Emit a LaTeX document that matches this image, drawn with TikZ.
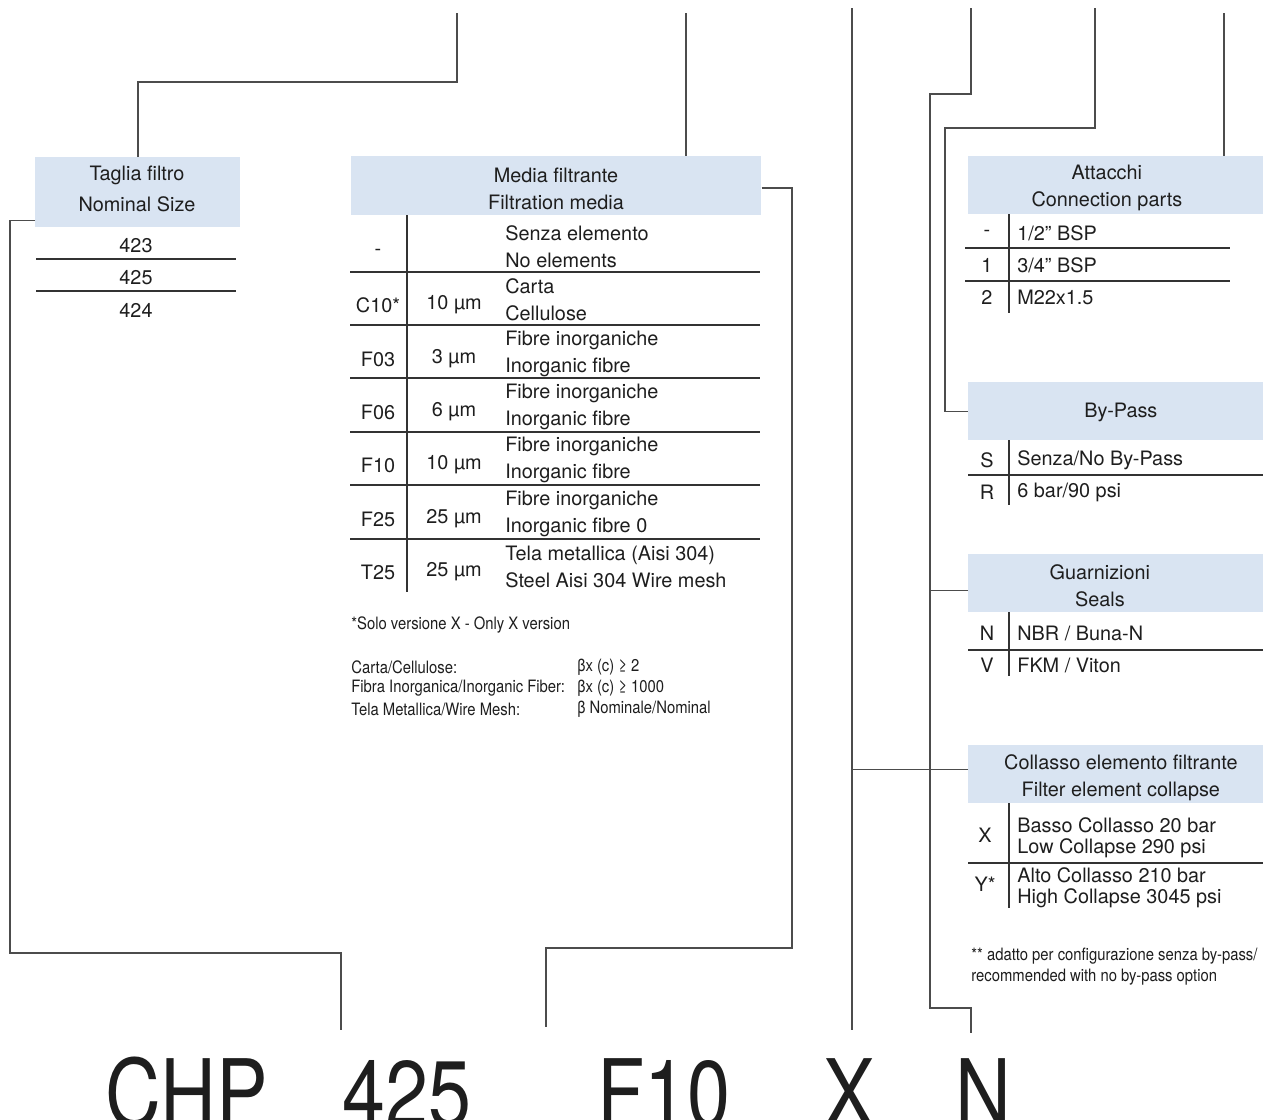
\documentclass[tikz,border=0pt]{standalone}
\usepackage{fontspec}
\setmainfont{TeX Gyre Heros}
\usetikzlibrary{positioning}

\definecolor{hdrblue}{RGB}{217,228,242}
\definecolor{ink}{RGB}{30,30,30}
\newcommand{\pxu}{0.02cm}
\newcommand{\narrow}[1]{\scalebox{0.87}[1]{#1}}

\tikzset{
  conn/.style={draw=black!70, line width=0.75pt},
  rule/.style={draw=black!80, line width=0.75pt},
  hdr/.style={fill=hdrblue, inner sep=0pt, anchor=north west, minimum height=58*\pxu},
  hdrtext/.style={align=center, inner sep=0pt, text=ink, font=\fontsize{11.3}{15.3}\selectfont},
  cell/.style={inner sep=0pt, text=ink, font=\fontsize{11.3}{15.3}\selectfont},
  tight/.style={cell, anchor=west, align=left, font=\fontsize{11.3}{12}\selectfont},
  note/.style={inner sep=0pt, anchor=west, align=left, text=ink, font=\fontsize{9.7}{11.9}\selectfont},
  big/.style={inner sep=0pt, anchor=base, text=ink, font=\fontsize{53}{60}\selectfont},
}

\begin{document}
\begin{tikzpicture}[x=0.02cm,y=-0.02cm]
  \fill[white] (0,0) rectangle (1263,1119);
  \useasboundingbox (0,0) rectangle (1263,1119);

  % header boxes
  \node[hdr, minimum width=205*\pxu, minimum height=70*\pxu] (taglia) at (35,157) {};
  \node[hdr, minimum width=410*\pxu, minimum height=59*\pxu] (media) at (351,156) {};
  \node[hdr, minimum width=295*\pxu] (attacchi) at (968,156) {};
  \node[hdr, minimum width=295*\pxu] (bypass) at (968,382) {};
  \node[hdr, minimum width=295*\pxu] (guarn) at (968,554) {};
  \node[hdr, minimum width=295*\pxu] (collasso) at (968,745) {};

  \node[hdrtext, font=\fontsize{11.3}{18}\selectfont] at (137,189) {Taglia filtro\\Nominal Size};
  \node[hdrtext] at (556,188.5) {Media filtrante\\Filtration media};
  \node[hdrtext] at ([xshift=-9*\pxu, yshift=-3*\pxu]attacchi.center) {Attacchi\\Connection parts};
  \node[hdrtext] at ([xshift=5*\pxu, yshift=-1*\pxu]bypass.center) {By-Pass};
  \node[hdrtext] at ([xshift=-16*\pxu, yshift=-2*\pxu]guarn.center) {Guarnizioni\\Seals};
  \node[hdrtext] at ([xshift=5*\pxu, yshift=-3*\pxu]collasso.center) {Collasso elemento filtrante\\Filter element collapse};

  % nominal size
  \node[cell] (s423) at (136,246) {423};
  \node[cell] (s425) at (136,278) {425};
  \node[cell] (s424) at (136,310) {424};
  \foreach \y in {259,291}
    \draw[rule] (36,\y) -- (236,\y);

  % filtration media
  \foreach \code/\mic/\la/\lb/\y in {
    -//Senza elemento/No elements/247,
    C10*/10 µm/Carta/Cellulose/300,
    F03/3 µm/Fibre inorganiche/Inorganic fibre/354,
    F06/6 µm/Fibre inorganiche/Inorganic fibre/407,
    F10/10 µm/Fibre inorganiche/Inorganic fibre/460,
    F25/25 µm/Fibre inorganiche/{Inorganic fibre 0}/514,
    T25/25 µm/{Tela metallica (Aisi 304)}/{Steel Aisi 304 Wire mesh}/567}{
    \node[cell] (m\y) at (378,\y+5) {\code};
    \node[cell] at (454,\y+5) {\mic};
    \node[cell, anchor=west, align=left] at (505,\y) {\la\\\lb};
  }
  \foreach \y in {272,325,378,432,485,539}
    \draw[rule] (350,\y) -- (760,\y);
  \draw[rule] (407,215) -- (407,592);

  \node[note] (fnx) at (351,625) {\narrow{*Solo versione X - Only X version}};
  \node[note] at (351,667) {\narrow{Carta/Cellulose:}};
  \node[note] at (351,688) {\narrow{Fibra Inorganica/Inorganic Fiber:}};
  \node[note] at (351,709) {\narrow{Tela Metallica/Wire Mesh:}};
  \node[note] at (577,667) {\narrow{βx (c) ≥ 2}};
  \node[note] at (577,688) {\narrow{βx (c) ≥ 1000}};
  \node[note] at (577,709) {\narrow{β Nominale/Nominal}};

  % connection parts
  \foreach \code/\y in {-/233, 1/265, 2/297}
    \node[cell] at (987,\y) {\code};
  \node[cell, anchor=west] at (1017,233) {1/2” BSP};
  \node[cell, anchor=west] at (1017,265) {3/4” BSP};
  \node[cell, anchor=west] at (1017,297) {M22x1.5};
  \foreach \y in {248,281}
    \draw[rule] (965,\y) -- (1230,\y);
  \draw[rule] (1009,214) -- (1009,313);

  % by-pass
  \node[cell] at (987,460) {S};
  \node[cell] at (987,492) {R};
  \node[cell, anchor=west] at (1017,460) {Senza/No By-Pass};
  \node[cell, anchor=west] at (1017,492) {6 bar/90 psi};
  \draw[rule] (968,475) -- (1263,475);
  \draw[rule] (1009,440) -- (1009,505);

  % seals
  \node[cell] at (987,633) {N};
  \node[cell] at (987,665) {V};
  \node[cell, anchor=west] at (1017,633) {NBR / Buna-N};
  \node[cell, anchor=west] at (1017,665) {FKM / Viton};
  \draw[rule] (968,650) -- (1263,650);
  \draw[rule] (1009,612) -- (1009,676);

  % collapse
  \node[cell] at (985,835) {X};
  \node[cell] at (985,884) {Y*};
  \node[tight] at (1017,837.5) {Basso Collasso 20 bar\\Low Collapse 290 psi};
  \node[tight] at (1017,887.5) {Alto Collasso 210 bar\\High Collapse 3045 psi};
  \draw[rule] (968,863) -- (1263,863);
  \draw[rule] (1009,803) -- (1009,908);
  \node[note] (fnb) at (971,966.5) {\narrow{** adatto per configurazione senza by-pass/}\\\narrow{recommended with no by-pass option}};

  % code letters
  \node[big] (chp) at (186.5,1126) {\scalebox{0.83}[1]{CHP}};
  \node[big] (size) at (407,1126) {\scalebox{0.83}[1]{425}};
  \node[big] (filt) at (664,1126) {\scalebox{0.83}[1]{F10}};
  \node[big] (coll) at (849.5,1126) {\scalebox{0.83}[1]{X}};
  \node[big] (seal) at (983,1126) {\scalebox{0.83}[1]{N}};

  % connectors
  \coordinate (top1) at (457,13);
  \coordinate (top2) at (686,13);
  \coordinate (top3) at (852,8);
  \coordinate (top4) at (971,8);
  \coordinate (top5) at (1095,8);
  \coordinate (top6) at (1224,13);
  \coordinate (bot1) at (341,1030);
  \coordinate (bot2) at (546,1027);
  \coordinate (bot3) at (852,1030);
  \coordinate (bot4) at (971,1033);

  \draw[conn] (taglia.north) -- ++(0,-75) -| (top1);
  \draw[conn] ([yshift=7*\pxu]taglia.south west) -| (10,953) -| (bot1);
  \draw[conn] (top2) -- (top2 |- media.north);
  \draw[conn] ([yshift=-2*\pxu]media.east) -| (792,948) -| (bot2);
  \draw[conn] (top3) -- (bot3);
  \draw[conn] ([yshift=5*\pxu]collasso.west) -- ([yshift=5*\pxu]collasso.west -| top3);
  \draw[conn] (top4) -- ++(0,86) -| (930,1008) -| (bot4);
  \draw[conn] ([yshift=-7*\pxu]guarn.west) -- ++(-38,0);
  \draw[conn] (top5) -- ++(0,120) -| ([xshift=-23*\pxu]bypass.west) -- (bypass.west);
  \draw[conn] (top6) -- (top6 |- attacchi.north);
\end{tikzpicture}
\end{document}
